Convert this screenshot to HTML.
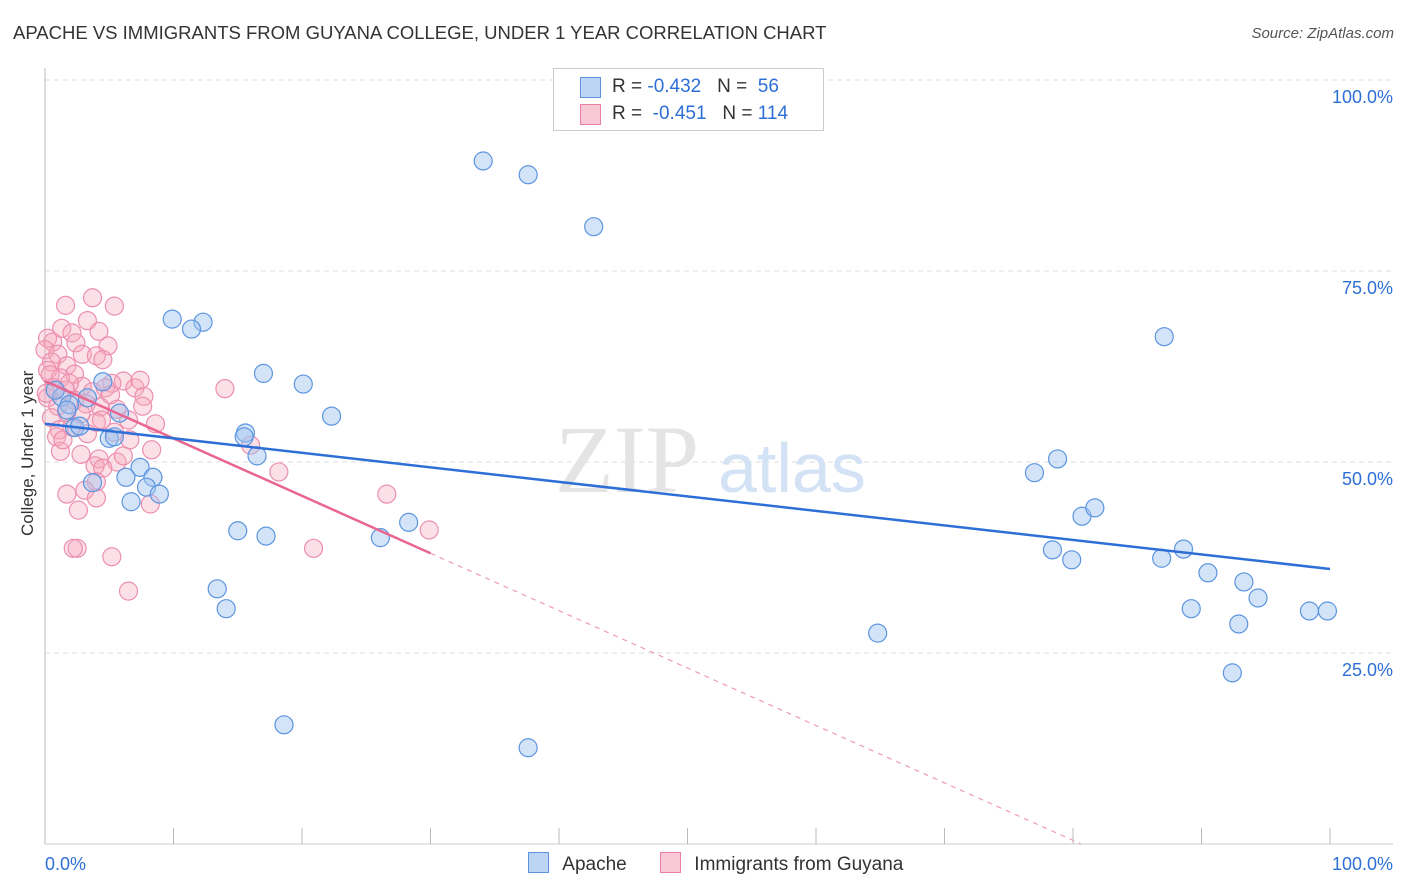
<!DOCTYPE html>
<html><head><meta charset="utf-8"><style>
body{margin:0;background:#fff;font-family:"Liberation Sans",sans-serif;}
#wrap{position:relative;width:1406px;height:892px;overflow:hidden;}
.t{position:absolute;white-space:nowrap;}
</style></head><body>
<div id="wrap">
<div class="t" style="left:13px;top:22px;font-size:18.5px;color:#333;">APACHE VS IMMIGRANTS FROM GUYANA COLLEGE, UNDER 1 YEAR CORRELATION CHART</div>
<div class="t" style="right:12px;top:25px;font-size:15px;color:#555;font-style:italic;">Source: ZipAtlas.com</div>
<div class="t" style="left:-52px;top:446px;font-size:17px;color:#333;transform:rotate(-90deg);width:160px;text-align:center;">College, Under 1 year</div>
<svg id="svg" width="1406" height="892" style="position:absolute;left:0;top:0"></svg>
<div style="position:absolute;left:553px;top:68px;width:269px;height:61px;border:1px solid #ccc;background:#fff;font-size:19px;">
 <div style="position:absolute;left:26px;top:8px;width:19px;height:19px;background:#bcd5f5;border:1px solid #5b95e0;"></div>
 <div class="t" style="left:58px;top:7px;color:#333">R = <span style="color:#2d6fd6">-0.432</span> &nbsp;&nbsp;N = &nbsp;<span style="color:#2d6fd6">56</span></div>
 <div style="position:absolute;left:26px;top:35px;width:19px;height:19px;background:#f9c8d7;border:1px solid #e87ea0;"></div>
 <div class="t" style="left:58px;top:34px;color:#333">R = &nbsp;<span style="color:#2d6fd6">-0.451</span> &nbsp;&nbsp;N = <span style="color:#2d6fd6">114</span></div>
</div>
<div style="position:absolute;left:528px;top:852px;font-size:19px;color:#333;">
 <span style="display:inline-block;width:19px;height:19px;background:#bcd5f5;border:1px solid #5b95e0;vertical-align:-3px;"></span>
 <span style="margin-left:8px">Apache</span>
 <span style="display:inline-block;width:19px;height:19px;background:#f9c8d7;border:1px solid #e87ea0;vertical-align:-3px;margin-left:28px;"></span>
 <span style="margin-left:8px">Immigrants from Guyana</span>
</div>
</div>
<script>
const yTicks=[25,50,75,100];
const blueX=[34.1,37.6,42.7,9.9,12.3,11.4,17.0,20.1,22.3,15.6,15.5,16.5,5.8,4.5,3.3,2.3,2.7,5.0,5.4,7.4,6.3,8.4,3.7,6.7,7.9,8.9,15.0,17.2,26.1,28.3,13.4,14.1,18.6,37.6,64.8,87.1,78.8,77.0,80.7,81.7,78.4,79.9,86.9,88.6,90.5,93.3,94.4,89.2,92.9,98.4,99.8,92.4,1.3,1.9,0.8,1.7];
const blueY=[89.4,87.6,80.8,68.7,68.3,67.4,61.6,60.2,56.0,53.8,53.3,50.8,56.4,60.5,58.4,54.5,54.7,53.1,53.3,49.3,48.0,48.0,47.3,44.8,46.7,45.8,41.0,40.3,40.1,42.1,33.4,30.8,15.6,12.6,27.6,66.4,50.4,48.6,42.9,44.0,38.5,37.2,37.4,38.6,35.5,34.3,32.2,30.8,28.8,30.5,30.5,22.4,58.5,57.5,59.4,56.8];
const pinkX=[3.7,1.6,5.4,3.3,1.3,4.2,2.1,0.2,0.6,2.4,4.9,0,1.0,2.9,4.0,4.5,0.5,1.7,0.2,2.3,1.2,6.1,5.2,2.9,0.7,4.7,7.0,1.6,3.7,7.7,0.2,2.3,3.2,1.0,4.3,7.6,5.6,1.7,2.8,0.5,6.5,4.0,8.6,2.1,1.1,5.4,3.3,6.6,0.9,8.3,1.2,2.8,4.2,5.6,3.9,4.5,4.0,3.1,1.7,4.0,8.2,2.6,2.5,2.2,5.2,6.5,14.0,16.0,18.2,20.9,26.6,29.9,0.4,0.1,1.9,5.1,1.4,6.1,4.4,7.4];
const pinkY=[71.5,70.5,70.4,68.5,67.5,67.1,66.9,66.2,65.7,65.6,65.2,64.7,64.1,64.1,63.9,63.4,63.1,62.6,62.0,61.5,61.0,60.6,60.3,59.9,59.7,59.7,59.7,59.4,59.2,58.6,58.4,58.1,57.6,57.3,57.2,57.3,56.9,56.5,56.3,55.8,55.5,55.2,55.0,54.6,54.2,53.9,53.7,52.9,53.3,51.6,51.4,51.0,50.4,50.0,49.5,49.2,47.4,46.3,45.8,45.3,44.5,43.7,38.7,38.7,37.6,33.1,59.6,52.2,48.7,38.7,45.8,41.1,61.4,59.0,60.3,58.8,52.9,50.8,55.5,60.7];
const blueTrend=[55.0,36.0];
const pinkTrend=[60.6,0];
const pinkSolidEnd=30;
const NS='http://www.w3.org/2000/svg';
const svg=document.getElementById('svg');
const X0=45,X1=1330,Y0=844,Y100=80;
const sx=v=>X0+(X1-X0)*v/100;
const sy=v=>Y0-(Y0-Y100)*v/100;
function mk(tag,a){const e=document.createElementNS(NS,tag);for(const k in a)e.setAttribute(k,a[k]);svg.appendChild(e);return e;}
yTicks.forEach(t=>{
 const g=mk('line',{x1:X0,x2:1393,y1:sy(t),y2:sy(t),stroke:'#ddd','stroke-dasharray':'5,4'});
 
 
 const tx=mk('text',{x:1393,y:sy(t)+23,'text-anchor':'end','font-size':18,fill:'#2d6fd6','font-family':'Liberation Sans'});
 tx.textContent=t.toFixed(1)+'%';
 
 
});
const ax=mk('line',{x1:X0,x2:X0,y1:68,y2:Y0,stroke:'#bbb'});


const bx=mk('line',{x1:X0,x2:1393,y1:Y0,y2:Y0,stroke:'#ccc'});


for(let i=0;i<=10;i++){
 const tk=mk('line',{x1:sx(i*10),x2:sx(i*10),y1:828,y2:Y0,stroke:'#bbb'});
 
 
}
[['0.0%',X0,'start'],['100.0%',1393,'end']].forEach(l=>{
 const t=mk('text',{x:l[1],y:870,'text-anchor':l[2],'font-size':18,fill:'#2d6fd6','font-family':'Liberation Sans'});
 t.textContent=l[0];
 
 
});
const wm=mk('text',{x:555,y:492,'font-size':96,fill:'#e4e4e4','font-family':'Liberation Serif'});
wm.textContent='ZIP';


const wm2=mk('text',{x:718,y:492,'font-size':70,fill:'#d4e2f5','font-family':'Liberation Sans'});
wm2.textContent='atlas';


pinkX.forEach((v,i)=>{
 const c=mk('circle',{cx:sx(v),cy:sy(pinkY[i]),r:9,fill:'rgba(245,165,190,0.35)',stroke:'#ec8fae','stroke-width':1.2});
 
 
});
blueX.forEach((v,i)=>{
 const c=mk('circle',{cx:sx(v),cy:sy(blueY[i]),r:9,fill:'rgba(160,196,240,0.45)',stroke:'#5b95e0','stroke-width':1.2});
 
 
});
const py=x=>pinkTrend[0]+(pinkTrend[1]-pinkTrend[0])*x/100*1.24;
const pl=mk('line',{x1:sx(0),y1:sy(pinkTrend[0]),x2:sx(pinkSolidEnd),y2:sy(py(pinkSolidEnd)),stroke:'#e8668f','stroke-width':2.5});


const pd=mk('line',{x1:sx(pinkSolidEnd),y1:sy(py(pinkSolidEnd)),x2:sx(80.6),y2:sy(py(80.6)),stroke:'#ef9ab5','stroke-width':1.2,'stroke-dasharray':'5,5'});


const bl=mk('line',{x1:sx(0),y1:sy(blueTrend[0]),x2:sx(100),y2:sy(blueTrend[1]),stroke:'#2d6fd6','stroke-width':2.5});


</script>
</body></html>
